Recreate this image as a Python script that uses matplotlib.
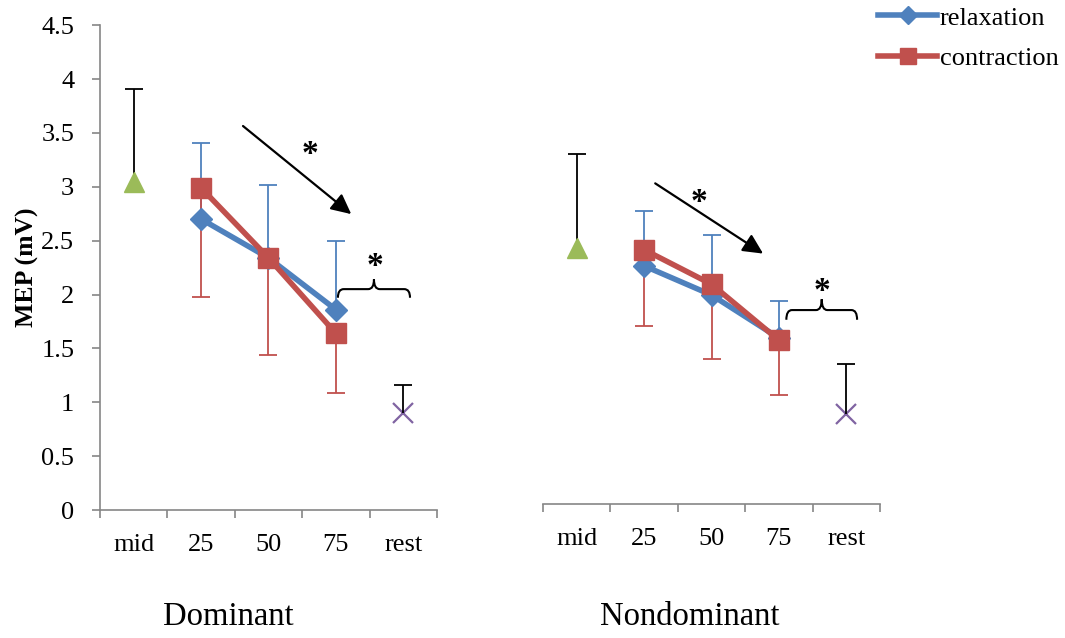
import numpy as np
import matplotlib
matplotlib.use('Agg')
import matplotlib.pyplot as plt
from matplotlib.path import Path
from matplotlib.patches import PathPatch

plt.rcParams['font.family'] = ['Liberation Serif', 'DejaVu Serif']

# ------------------------------------------------------------
# data (MEP in mV)
# ------------------------------------------------------------
categories = ['mid', '25', '50', '75', 'rest']
x_levels   = [1, 2, 3]          # positions of 25 / 50 / 75

dom_relax      = [2.70, 2.34, 1.86]
dom_relax_sd   = [0.71, 0.68, 0.64]   # upper bars
dom_contr      = [2.99, 2.34, 1.64]
dom_contr_sd   = [1.01, 0.90, 0.55]   # lower bars
dom_mid,  dom_mid_sd  = 3.04, 0.87
dom_rest, dom_rest_sd = 0.90, 0.26

nd_relax      = [2.21, 1.94, 1.54]
nd_relax_sd   = [0.51, 0.56, 0.34]
nd_contr      = [2.36, 2.04, 1.52]
nd_contr_sd   = [0.71, 0.69, 0.51]
nd_mid,  nd_mid_sd  = 2.38, 0.87
nd_rest, nd_rest_sd = 0.84, 0.46

blue   = '#4F81BD'
red    = '#C0504D'
green  = '#9BBB59'
purple = '#8064A2'
axis_c = '#868686'

fig = plt.figure(figsize=(10.65, 6.38), dpi=100)
ax1 = fig.add_axes([0.0939, 0.2006, 0.3164, 0.760])
ax2 = fig.add_axes([0.5099, 0.2100, 0.3164, 0.760])


def brace(ax, x0, x1, yb, ym, yp):
    xm = (x0 + x1) / 2
    r = (x1 - x0) * 0.08
    verts = [(x0, yb), (x0, ym), (x0 + r, ym),
             (xm - r, ym),
             (xm, ym), (xm, yp),
             (xm, ym), (xm + r, ym),
             (x1 - r, ym),
             (x1, ym), (x1, yb)]
    codes = [Path.MOVETO, Path.CURVE3, Path.CURVE3,
             Path.LINETO,
             Path.CURVE3, Path.CURVE3,
             Path.CURVE3, Path.CURVE3,
             Path.LINETO,
             Path.CURVE3, Path.CURVE3]
    ax.add_patch(PathPatch(Path(verts, codes), fill=False, lw=1.5,
                           edgecolor='black', zorder=6))


def one_sided(ax, x, y, err, color, up=True, z=2):
    zero = np.zeros(len(err))
    yerr = [zero, err] if up else [err, zero]
    _, caps, _ = ax.errorbar(x, y, yerr=yerr, fmt='none', ecolor=color,
                             elinewidth=1.3, capsize=6.5, capthick=1.3, zorder=z)
    # hide the zero-length cap sitting on the marker
    caps[0 if up else 1].set_visible(False)


def panel(ax, relax, relax_sd, contr, contr_sd, mid, mid_sd, rest, rest_sd):
    one_sided(ax, x_levels, relax, relax_sd, blue, up=True)
    one_sided(ax, x_levels, contr, contr_sd, red, up=False)
    one_sided(ax, [0], [mid], [mid_sd], 'black', up=True)
    one_sided(ax, [4], [rest], [rest_sd], 'black', up=True, z=5)
    l1, = ax.plot(x_levels, relax, color=blue, lw=4, marker='D', ms=11,
                  label='relaxation', zorder=3)
    l2, = ax.plot(x_levels, contr, color=red, lw=4, marker='s', ms=14,
                  label='contraction', zorder=4)
    ax.plot([0], [mid], marker='^', ms=15, color=green, ls='none', zorder=4)
    ax.plot([4], [rest], marker='x', ms=14, mew=1.6, color=purple, ls='none', zorder=4)

    ax.set_xlim(-0.5, 4.5)
    ax.set_ylim(0, 4.5)
    ax.set_xticks(range(5))
    ax.set_xticklabels(categories)
    ax.set_xticks(np.arange(-0.5, 5, 1), minor=True)
    ax.tick_params(axis='x', which='major', length=0, pad=17, labelsize=19)
    ax.tick_params(axis='x', which='minor', length=5.5, color=axis_c, width=1.2)
    for s in ['top', 'right']:
        ax.spines[s].set_visible(False)
    ax.spines['bottom'].set_color(axis_c)
    ax.spines['bottom'].set_linewidth(1.2)
    return l1, l2


h1, h2 = panel(ax1, dom_relax, dom_relax_sd, dom_contr, dom_contr_sd,
               dom_mid, dom_mid_sd, dom_rest, dom_rest_sd)
panel(ax2, nd_relax, nd_relax_sd, nd_contr, nd_contr_sd,
      nd_mid, nd_mid_sd, nd_rest, nd_rest_sd)

ax1.set_yticks(np.arange(0, 4.51, 0.5))
ax1.set_yticklabels(['0', '0.5', '1', '1.5', '2', '2.5', '3', '3.5', '4', '4.5'])
ax1.tick_params(axis='y', length=5.5, color=axis_c, width=1.2, pad=13, labelsize=19)
ax1.spines['left'].set_color(axis_c)
ax1.spines['left'].set_linewidth(1.2)
ax1.set_ylabel('MEP (mV)', fontsize=18.5, fontweight='bold', labelpad=2)

ax2.spines['left'].set_visible(False)
ax2.set_yticks([])

# annotations: trend arrows, braces and stars
arrow = dict(arrowstyle='-|>,head_length=0.55,head_width=0.27', color='black',
             lw=1.6, mutation_scale=22)
star = dict(fontsize=24, fontweight='bold', ha='center', va='center')
ax1.annotate('', xy=(3.26, 2.73), xytext=(1.59, 3.58), arrowprops=arrow)
ax1.text(2.62, 3.30, '*', **star)
brace(ax1, 3.03, 4.10, 1.97, 2.05, 2.14)
ax1.text(3.58, 2.26, '*', **star)

ax2.annotate('', xy=(2.80, 2.31), xytext=(1.13, 2.99), arrowprops=arrow)
ax2.text(1.82, 2.80, '*', **star)
brace(ax2, 3.11, 4.16, 1.71, 1.80, 1.90)
ax2.text(3.64, 1.97, '*', **star)

fig.text(228 / 1065, 1 - 617 / 638, 'Dominant', fontsize=23.5, ha='center', va='center')
fig.text(690 / 1065, 1 - 617 / 638, 'Nondominant', fontsize=23.5, ha='center', va='center')

fig.legend(handles=[h1, h2], loc='upper right', bbox_to_anchor=(1.009, 1.015),
           frameon=False, fontsize=19, handlelength=2.25, handletextpad=0.1,
           markerscale=0.85, labelspacing=0.65, borderaxespad=0.2)

fig.savefig('out.png', dpi=100)
